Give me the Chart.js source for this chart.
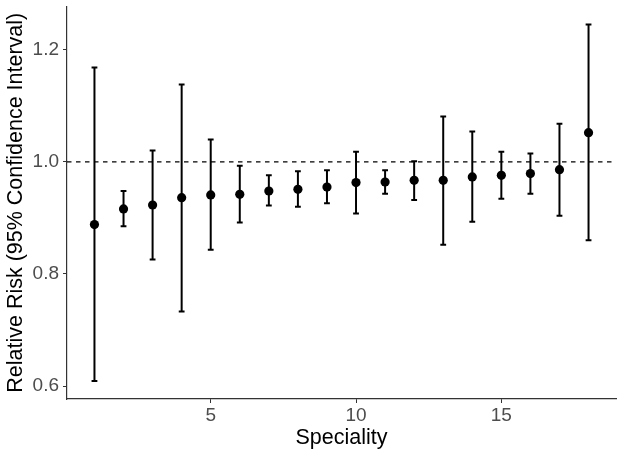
<!DOCTYPE html>
<html>
<head>
<meta charset="utf-8">
<script src="https://cdn.jsdelivr.net/npm/chart.js@4.4.1/dist/chart.umd.min.js"></script>
<style>
  html, body { margin: 0; padding: 0; background: #fff; }
  #wrap { width: 624px; height: 457px; position: relative; }
</style>
</head>
<body>
<div id="wrap"><canvas id="c"></canvas></div>
<script>
const speciality = [1, 2, 3, 4, 5, 6, 7, 8, 9, 10, 11, 12, 13, 14, 15, 16, 17, 18];
const relativeRisk = [0.888, 0.916, 0.923, 0.936, 0.941, 0.942, 0.948, 0.951, 0.955, 0.963, 0.964, 0.967, 0.967, 0.973, 0.976, 0.979, 0.986, 1.052];
const lowerCI = [0.609, 0.885, 0.826, 0.733, 0.843, 0.892, 0.922, 0.920, 0.926, 0.908, 0.943, 0.932, 0.852, 0.893, 0.934, 0.943, 0.904, 0.860];
const upperCI = [1.168, 0.948, 1.020, 1.138, 1.040, 0.993, 0.976, 0.983, 0.985, 1.018, 0.985, 1.001, 1.081, 1.054, 1.018, 1.015, 1.068, 1.245];
const xTicks = [5, 10, 15];
const yTicks = [0.6, 0.8, 1.0, 1.2];
const referenceValue = 1.0;

const points = speciality.map((s, i) => ({ x: s, y: relativeRisk[i] }));

const errorBarPlugin = {
  id: 'errorBars',
  beforeDatasetsDraw(chart) {
    const { ctx, chartArea, scales: { x, y } } = chart;
    ctx.save();
    ctx.beginPath();
    ctx.rect(chartArea.left, chartArea.top, chartArea.right - chartArea.left, chartArea.bottom - chartArea.top);
    ctx.clip();
    const yr = y.getPixelForValue(referenceValue);
    ctx.strokeStyle = '#000';
    ctx.lineWidth = 1.3;
    ctx.setLineDash([4.5, 4.5]);
    ctx.beginPath();
    ctx.moveTo(chartArea.left, yr);
    ctx.lineTo(chartArea.right, yr);
    ctx.stroke();
    ctx.setLineDash([]);
    ctx.lineWidth = 2;
    ctx.lineCap = 'butt';
    const capHalf = (x.getPixelForValue(0.1) - x.getPixelForValue(0));
    speciality.forEach((s, i) => {
      const px = x.getPixelForValue(s);
      const yl = y.getPixelForValue(lowerCI[i]);
      const yu = y.getPixelForValue(upperCI[i]);
      ctx.beginPath();
      ctx.moveTo(px, yl);
      ctx.lineTo(px, yu);
      ctx.moveTo(px - capHalf, yl);
      ctx.lineTo(px + capHalf, yl);
      ctx.moveTo(px - capHalf, yu);
      ctx.lineTo(px + capHalf, yu);
      ctx.stroke();
    });
    ctx.restore();
  }
};

new Chart(document.getElementById('c'), {
  type: 'scatter',
  data: {
    datasets: [{
      data: points,
      backgroundColor: '#000',
      borderColor: '#000',
      pointRadius: 4.6,
      pointHoverRadius: 4.6,
      borderWidth: 0
    }]
  },
  options: {
    responsive: true,
    maintainAspectRatio: false,
    animation: false,
    events: [],
    layout: { padding: { top: 6.5, right: 8, left: 0, bottom: 0 } },
    plugins: { legend: { display: false }, tooltip: { enabled: false } },
    scales: {
      x: {
        type: 'linear',
        min: 0.055,
        max: 18.945,
        afterBuildTicks(scale) { scale.ticks = xTicks.map(v => ({ value: v })); },
        afterFit(scale) { scale.height = 58; scale.paddingLeft = 0; scale.paddingRight = 0; },
        ticks: {
          color: '#4D4D4D',
          font: { family: 'Liberation Sans, Arial, sans-serif', size: 19 },
          padding: 1,
          maxRotation: 0,
          callback: v => String(v)
        },
        grid: { display: true, drawOnChartArea: false, drawTicks: true, tickLength: 4, color: '#333333', lineWidth: 1 },
        border: { display: true, color: '#333333', width: 1.2 },
        title: {
          display: true,
          text: 'Speciality',
          color: '#000',
          font: { family: 'Liberation Sans, Arial, sans-serif', size: 21.5 },
          padding: { top: 0, bottom: 6 }
        }
      },
      y: {
        type: 'linear',
        min: 0.577,
        max: 1.277,
        afterBuildTicks(scale) { scale.ticks = yTicks.map(v => ({ value: v })); },
        afterFit(scale) { scale.width = 67; scale.paddingTop = 0; scale.paddingBottom = 0; },
        ticks: {
          color: '#4D4D4D',
          font: { family: 'Liberation Sans, Arial, sans-serif', size: 19 },
          padding: 4,
          callback: v => Number(v).toFixed(1)
        },
        grid: { display: true, drawOnChartArea: false, drawTicks: true, tickLength: 4, color: '#333333', lineWidth: 1 },
        border: { display: true, color: '#333333', width: 1.2 },
        title: {
          display: true,
          text: 'Relative Risk (95% Confidence Interval)',
          color: '#000',
          font: { family: 'Liberation Sans, Arial, sans-serif', size: 21.5 },
          padding: { top: 3, bottom: 0 }
        }
      }
    }
  },
  plugins: [errorBarPlugin]
});
</script>
</body>
</html>
